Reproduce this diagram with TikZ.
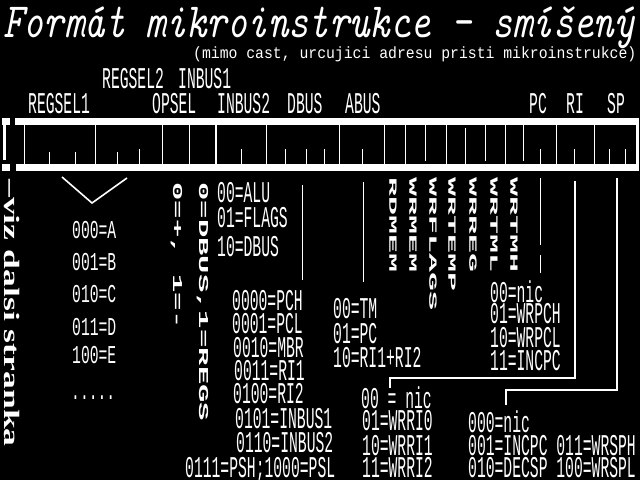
\documentclass[tikz,border=0pt]{standalone}
\usepackage{fontspec}
\newfontfamily\monofnt{Liberation Mono}
\newfontfamily\seriffnt{Liberation Serif}
\begin{document}
\begin{tikzpicture}[x=1pt,y=-1pt,
  lbl/.style={anchor=base west, inner sep=0pt, text=white, font=\monofnt\fontsize{14.7}{15}\selectfont, yscale=2.05},
  lbls/.style={anchor=base west, inner sep=0pt, text=white, font=\monofnt\fontsize{14.7}{15}\selectfont, yscale=1.75},
  vrot/.style={anchor=base west, inner sep=0pt, text=white, rotate=-90, font=\monofnt\bfseries\fontsize{13.6}{14}\selectfont, xscale=2.25},
  vrots/.style={anchor=base west, inner sep=0pt, text=white, rotate=-90, font=\monofnt\bfseries\fontsize{11}{12}\selectfont, xscale=2.88},
  tick/.style={white, line width=1pt},
  wire/.style={white, line width=1.6pt},
  thin/.style={white, line width=1pt},
]
\useasboundingbox (0,0) rectangle (640,480);
\fill[black] (0,0) rectangle (640,480);

% title
\node[anchor=base west, inner sep=0pt, text=white, font=\ttfamily\itshape\fontsize{38.8}{40}\selectfont, yscale=1.27] (title) at (3,37) {Formát mikroinstrukce - smíšený};
\node[anchor=base west, inner sep=0pt, text=white, font=\monofnt\fontsize{14.77}{15}\selectfont, yscale=1.1] (sub) at (193,58) {(mimo cast, urcujici adresu pristi mikroinstrukce)};

% field labels
\node[lbl] (rs2) at (102,88) {REGSEL2};
\node[lbl] (ib1) at (178,88) {INBUS1};
\node[lbl] (rs1) at (28,113) {REGSEL1};
\node[lbl] (ops) at (152,113) {OPSEL};
\node[lbl] (ib2) at (217,113) {INBUS2};
\node[lbl] (dbus) at (287,113) {DBUS};
\node[lbl] (abus) at (345,113) {ABUS};
\node[lbl] (pc) at (529,113) {PC};
\node[lbl] (ri) at (566,113) {RI};
\node[lbl] (sp) at (607,113) {SP};

% bar
\fill[white] (15,118) rectangle (639,125);
\fill[white] (16,164) rectangle (639,171);
\fill[white] (636,118) rectangle (638.5,171);
\fill[white] (2,118) rectangle (10,125);
\fill[white] (3,125) rectangle (6,160);
\fill[white] (2,164) rectangle (10,171);
\foreach \x in {24.3,95.3,162.3,189.3,266,339.3,384.3,405.3,446.3,505.3,556.3,594.3}
  \draw[tick] (\x,125) -- (\x,164);
\draw[white, line width=2pt] (215.7,125) -- (215.7,164);
\foreach \x in {49.3,75.3,117.3}
  \draw[tick] (\x,152) -- (\x,164);
\foreach \x in {139.3,241.3,285.3,306.3,324.3,362.3,540.3,574.3,609.3,625.3}
  \draw[tick] (\x,149) -- (\x,164);
\foreach \x in {425.3,485.3,523.3}
  \draw[tick] (\x,125) -- (\x,161);
\draw[tick] (465.3,128) -- (465.3,164);

% left note
\node[anchor=base west, inner sep=0pt, text=white, rotate=-90, xscale=1.62, font=\seriffnt\bfseries\fontsize{22}{24}\selectfont] (note) at (5,179) {–viz dalsi stranka};

% REGSEL decoding
\coordinate (va) at (62,177);
\coordinate (vb) at (92,203);
\coordinate (vc) at (127,178);
\draw[wire] (va) -- (vb) -- (vc);
\node[lbls] (ra) at (72,238) {000=A};
\node[lbls] (rb) at (72,270) {001=B};
\node[lbls] (rc) at (72,302) {010=C};
\node[lbls] (rd) at (72,335) {011=D};
\node[lbls] (re) at (72,363) {100=E};
\node[lbls] (rdots) at (71,399) {.....};

% rotated legends
\node[vrot] (opsel) at (173,182) {0=+, 1=-};
\node[vrot] (ib2sel) at (199,182) {0=DBUS,1=REGS};

% INBUS2 / DBUS
\node[lbl] (alu) at (217,202) {00=ALU};
\node[lbl] (flg) at (217,227) {01=FLAGS};
\node[lbl] (dbs) at (217,256) {10=DBUS};

\coordinate (d1) at (302,185);
\coordinate (d2) at (302,280);
\draw[thin] (d1) -- (d2);
\coordinate (a1) at (363,182);
\coordinate (a2) at (363,282);
\draw[thin] (a1) -- (a2);

\node[lbl] (pch) at (232,310) {0000=PCH};
\node[lbl] (pcl) at (232,333) {0001=PCL};
\node[lbl] (mbr) at (233,357) {0010=MBR};
\node[lbl] (ri1) at (234,380) {0011=RI1};
\node[lbl] (ri2) at (233,403) {0100=RI2};
\node[lbl] (in1) at (235,428) {0101=INBUS1};
\node[lbl] (in2) at (236,452) {0110=INBUS2};
\node[lbl] (psh) at (185,477) {0111=PSH;1000=PSL};

\node[lbl] (tm) at (333,318) {00=TM};
\node[lbl] (apc) at (333,343) {01=PC};
\node[lbl] (ari) at (333,367) {10=RI1+RI2};

% write signals
\node[vrots] (s1) at (389.4,177) {RDMEM};
\node[vrots] (s2) at (409.4,177) {WRMEM};
\node[vrots] (s3) at (429.4,177) {WRFLAGS};
\node[vrots] (s4) at (448.4,177) {WRTEMP};
\node[vrots] (s5) at (469.4,177) {WRREG};
\node[vrots] (s6) at (490.4,177) {WRTML};
\node[vrots] (s7) at (510.4,177) {WRTMH};

% PC field
\coordinate (p1) at (540,178);
\coordinate (p2) at (540,245);
\coordinate (p3) at (540,255);
\coordinate (p4) at (540,273);
\draw[thin] (p1) -- (p2);
\draw[thin] (p3) -- (p4);
\node[lbl] (pn) at (490,302) {00=nic};
\node[lbl] (pw1) at (490,323) {01=WRPCH};
\node[lbl] (pw2) at (490,347) {10=WRPCL};
\node[lbl] (pw3) at (490,370) {11=INCPC};

% RI field
\coordinate (r1) at (575,181);
\coordinate (r2) at (575,378);
\coordinate (r3) at (390,378);
\coordinate (r4) at (390,388);
\draw[wire] (r1) -- (r2) -- (r3) -- (r4);
\node[lbl] (rn) at (361,408) {00 = nic};
\node[lbl] (rw0) at (362,430) {01=WRRI0};
\node[lbl] (rw1) at (362,455) {10=WRRI1};
\node[lbl] (rw2) at (362,477) {11=WRRI2};

% SP field
\coordinate (q1) at (617,178);
\coordinate (q2) at (617,390);
\coordinate (q3) at (506,390);
\coordinate (q4) at (506,405);
\draw[wire] (q1) -- (q2) -- (q3) -- (q4);
\node[lbl] (sn) at (468,432) {000=nic};
\node[lbl] (s01) at (468,455) {001=INCPC 011=WRSPH};
\node[lbl] (s02) at (468,477) {010=DECSP 100=WRSPL};
\end{tikzpicture}
\end{document}
